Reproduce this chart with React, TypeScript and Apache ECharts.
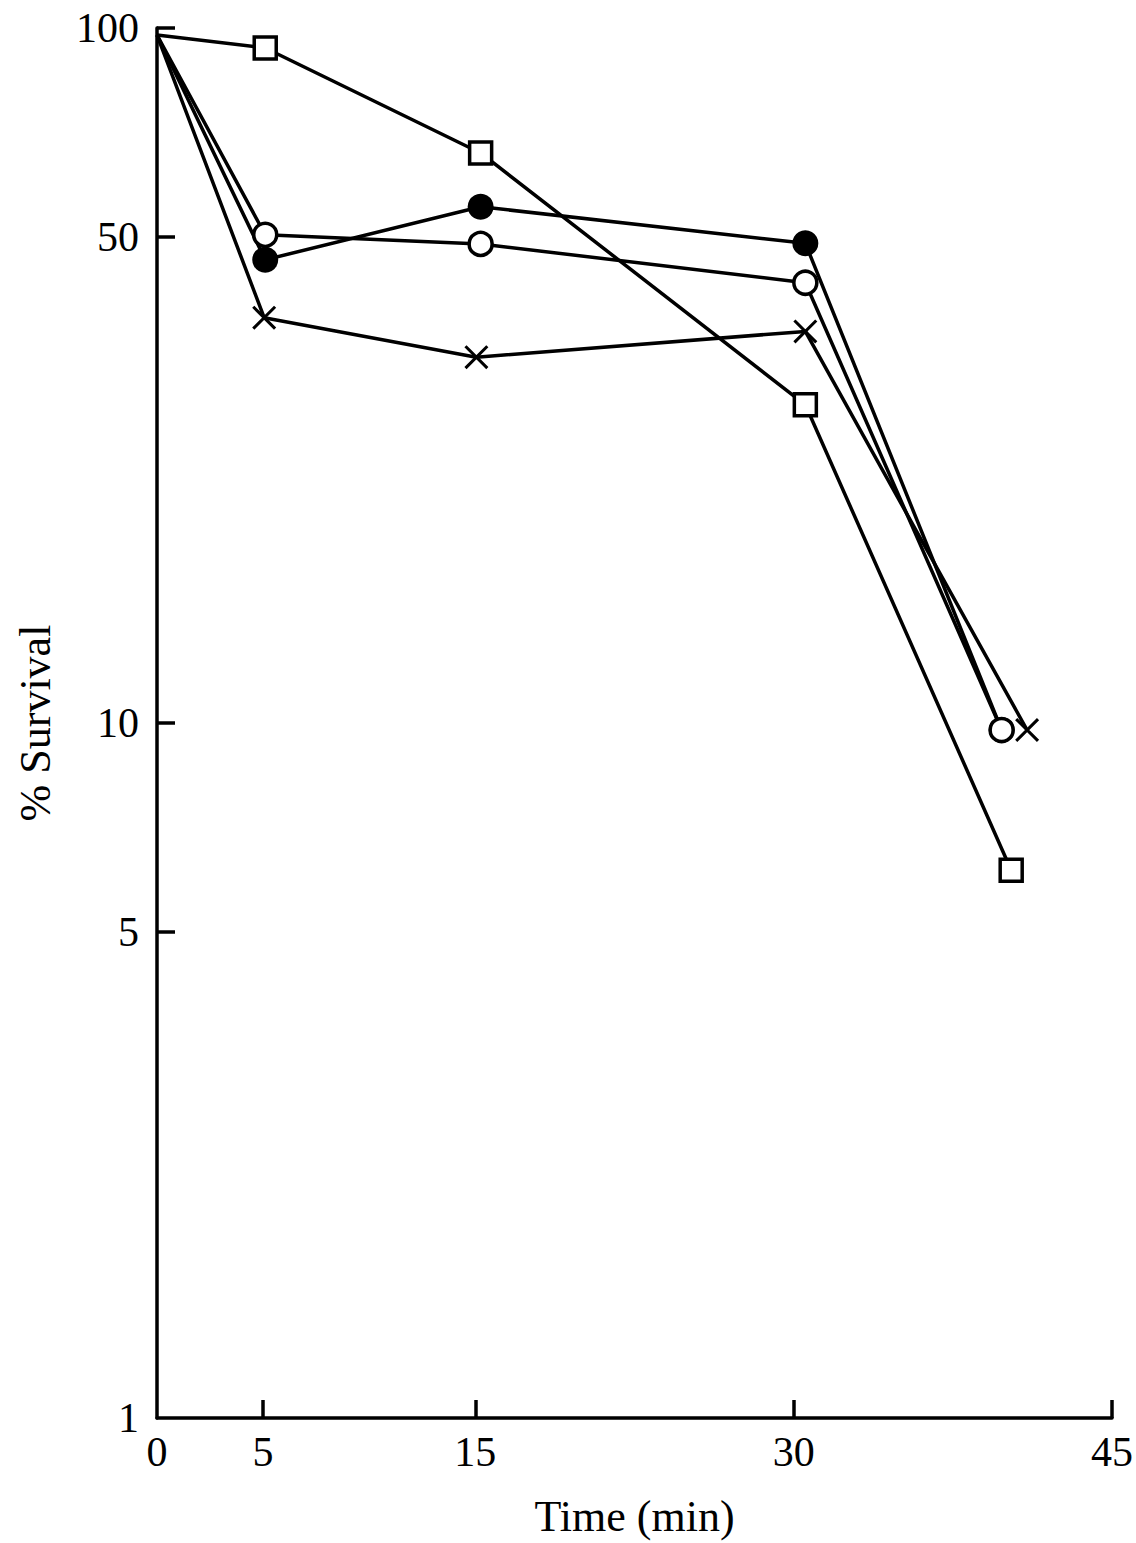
import React, { useEffect, useRef } from "react";
import * as echarts from "echarts";

// Data (time in min, % survival on log scale)
const squareTime = [0, 5.1, 15.25, 30.55, 40.25];
const squareSurvival = [97.7, 93.6, 66.1, 28.7, 6.14];

const filledTime = [0, 5.1, 15.25, 30.55, 39.8];
const filledSurvival = [97.7, 46.4, 55.3, 49.0, 9.77];

const openTime = [0, 5.1, 15.25, 30.55, 39.8];
const openSurvival = [97.7, 50.4, 48.9, 43.0, 9.77];

const crossTime = [0, 5.05, 15.05, 30.55, 41.0];
const crossSurvival = [97.7, 38.3, 33.6, 36.6, 9.77];

const xTicks = [5, 15, 30, 45];
const xLabels = [0, 5, 15, 30, 45];
const yTicks = [5, 10, 50, 100];
const yLabels = [1, 5, 10, 50, 100];

const FONT = "Liberation Serif";
const CROSS =
  "path://M0,1.8L1.8,0L20,18.2L18.2,20Z M18.2,0L20,1.8L1.8,20L0,18.2Z";

// the first (time 0) point of each curve is drawn without a marker
function pairs(xs: number[], ys: number[]) {
  return xs.map((x, i) =>
    i === 0 ? { value: [x, ys[i]], symbol: "none" } : { value: [x, ys[i]] }
  );
}

export default function App() {
  const ref = useRef<HTMLDivElement>(null);
  useEffect(() => {
    document.body.style.margin = "0";
    const chart = echarts.init(ref.current!, null, { renderer: "svg" });
    const line = { color: "#000", width: 3.5 };
    chart.setOption({
      animation: false,
      backgroundColor: "#fff",
      grid: { left: 157, right: 23, top: 28, bottom: 125 },
      xAxis: {
        type: "value",
        min: 0,
        max: 45,
        splitLine: { show: false },
        axisLine: { show: true, lineStyle: { color: "#000", width: 3.5 } },
        axisTick: {
          show: true,
          inside: true,
          length: 18,
          lineStyle: { color: "#000", width: 3.5 },
          customValues: xTicks,
        },
        axisLabel: {
          customValues: xLabels,
          showMinLabel: true,
          showMaxLabel: true,
          color: "#000",
          fontFamily: FONT,
          fontSize: 42,
          margin: 13,
        },
        name: "Time (min)",
        nameLocation: "middle",
        nameGap: 76,
        nameTextStyle: { color: "#000", fontFamily: FONT, fontSize: 44 },
      },
      yAxis: {
        type: "log",
        logBase: 10,
        min: 1,
        max: 100,
        splitLine: { show: false },
        axisLine: { show: true, lineStyle: { color: "#000", width: 3.5 } },
        axisTick: {
          show: true,
          inside: true,
          length: 18,
          lineStyle: { color: "#000", width: 3.5 },
          customValues: yTicks,
        },
        axisLabel: {
          customValues: yLabels,
          showMinLabel: true,
          showMaxLabel: true,
          color: "#000",
          fontFamily: FONT,
          fontSize: 42,
          margin: 18,
        },
        name: "% Survival",
        nameLocation: "middle",
        nameGap: 100,
        nameTextStyle: { color: "#000", fontFamily: FONT, fontSize: 44 },
      },
      series: [
        {
          type: "line",
          data: pairs(squareTime, squareSurvival),
          lineStyle: line,
          symbol: "rect",
          symbolSize: 22,
          itemStyle: { color: "#fff", borderColor: "#000", borderWidth: 3.5 },
          z: 2,
        },
        {
          type: "line",
          data: pairs(crossTime, crossSurvival),
          lineStyle: line,
          symbol: CROSS,
          symbolSize: 24,
          itemStyle: { color: "#000", borderWidth: 0 },
          z: 3,
        },
        {
          type: "line",
          data: pairs(filledTime, filledSurvival),
          lineStyle: line,
          symbol: "circle",
          symbolSize: 26,
          itemStyle: { color: "#000", borderColor: "#000", borderWidth: 0 },
          z: 4,
        },
        {
          type: "line",
          data: pairs(openTime, openSurvival),
          lineStyle: line,
          symbol: "circle",
          symbolSize: 23,
          itemStyle: { color: "#fff", borderColor: "#000", borderWidth: 3.5 },
          z: 5,
        },
      ].map((s) => ({ ...s, showSymbol: true, showAllSymbol: true })),
    });
    return () => chart.dispose();
  }, []);
  return (
    <div
      ref={ref}
      style={{ position: "absolute", left: 0, top: 0, width: 1136, height: 1543 }}
    />
  );
}
